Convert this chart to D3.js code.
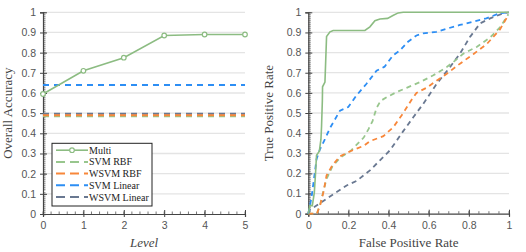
<!DOCTYPE html>
<html>
<head>
<meta charset="utf-8">
<script src="https://cdnjs.cloudflare.com/ajax/libs/d3/7.8.5/d3.min.js"></script>
<style>
body { margin:0; background:#fff; }
.tick text { font-family: "Liberation Sans", Arial, sans-serif; font-size:10.5px; fill:#555; }
.axis-label { font-family: "Liberation Serif", "DejaVu Serif", serif; font-size:13px; fill:#444; }
.legend text { font-family: "Liberation Serif", "DejaVu Serif", serif; font-size:10px; fill:#222; }
</style>
</head>
<body>
<div id="chart"></div>
<script>

// ---- data ----
var levels = [0, 1, 2, 3, 4, 5];
var multiAccuracy = [0.595, 0.71, 0.775, 0.885, 0.89, 0.89];
var svmRbfAccuracy = 0.485;
var wsvmRbfAccuracy = 0.49;
var svmLinearAccuracy = 0.64;
var wsvmLinearAccuracy = 0.497;

var seriesNames = ["Multi", "SVM RBF", "WSVM RBF", "SVM Linear", "WSVM Linear"];
var seriesColors = ["#8cbc82", "#98c68d", "#f8873a", "#2d8ef4", "#697891"];

// ROC curves: [fpr, tpr]
var rocMulti = [[0,0],[0.008,0.04],[0.02,0.04],[0.03,0.105],[0.036,0.2],[0.041,0.29],[0.055,0.31],
  [0.063,0.37],[0.066,0.433],[0.07,0.56],[0.071,0.63],[0.083,0.654],[0.091,0.88],[0.108,0.903],
  [0.124,0.91],[0.282,0.91],[0.307,0.928],[0.332,0.958],[0.357,0.967],[0.395,0.97],[0.424,0.985],
  [0.448,0.997],[0.473,1],[1,1]];
var rocSvmRbf = [[0,0],[0.043,0],[0.06,0.05],[0.09,0.17],[0.12,0.235],[0.16,0.28],[0.209,0.31],
  [0.276,0.378],[0.3,0.42],[0.32,0.46],[0.34,0.525],[0.36,0.56],[0.39,0.578],[0.44,0.604],
  [0.49,0.625],[0.556,0.653],[0.623,0.687],[0.69,0.728],[0.723,0.753],[0.773,0.795],
  [0.839,0.828],[0.906,0.875],[0.955,0.925],[0.997,0.99]];
var rocWsvmRbf = [[0,0],[0.043,0],[0.06,0.046],[0.076,0.11],[0.091,0.19],[0.12,0.24],[0.158,0.285],
  [0.209,0.31],[0.276,0.337],[0.307,0.36],[0.374,0.385],[0.424,0.43],[0.473,0.5],[0.514,0.565],
  [0.539,0.6],[0.589,0.625],[0.638,0.66],[0.69,0.695],[0.756,0.745],[0.822,0.792],
  [0.889,0.842],[0.955,0.915],[0.99,0.975]];
var rocSvmLinear = [[0,0],[0.008,0.038],[0.017,0.088],[0.028,0.17],[0.041,0.27],[0.058,0.32],
  [0.083,0.37],[0.108,0.425],[0.158,0.512],[0.199,0.53],[0.24,0.587],[0.29,0.645],[0.34,0.71],
  [0.38,0.73],[0.423,0.787],[0.456,0.81],[0.497,0.854],[0.539,0.885],[0.572,0.895],[0.638,0.903],
  [0.688,0.918],[0.755,0.937],[0.82,0.953],[0.887,0.97],[0.953,0.995],[1,1]];
var rocWsvmLinear = [[0,0],[0.008,0.02],[0.025,0.03],[0.075,0.063],[0.125,0.097],[0.191,0.14],
  [0.241,0.163],[0.307,0.215],[0.357,0.265],[0.407,0.315],[0.473,0.41],[0.523,0.479],[0.573,0.546],
  [0.64,0.645],[0.706,0.728],[0.756,0.795],[0.806,0.878],[0.856,0.945],[0.906,0.97],[0.972,0.995],[1,1]];

var yTicks = [0,0.1,0.2,0.3,0.4,0.5,0.6,0.7,0.8,0.9,1];
var levelTicks = [0,1,2,3,4,5];
var fprTicks = [0,0.2,0.4,0.6,0.8,1];

// ---- layout ----
var svg = d3.select("#chart").append("svg")
  .attr("width", 526).attr("height", 252);

var dash = "6,5";

function fmt(d){ return d===0||d===1 ? String(d) : String(+d.toFixed(1)); }

function drawFrame(g, x, y, majorX, minorStepX, w, h){
  // grid
  g.append("g").selectAll("line").data(yTicks.slice(1)).enter().append("line")
    .attr("x1", 0).attr("x2", w)
    .attr("y1", function(d){ return y(d); }).attr("y2", function(d){ return y(d); })
    .attr("stroke", "#e4e4e4").attr("stroke-width", 1.3);

  // minor ticks on y (inside)
  var minorY = d3.range(0, 1.0001, 0.01);
  g.append("g").selectAll("line").data(minorY).enter().append("line")
    .attr("x1", 0).attr("x2", 2.5)
    .attr("y1", function(d){ return Math.round(y(d))+0.5; }).attr("y2", function(d){ return Math.round(y(d))+0.5; })
    .attr("stroke", "#555").attr("stroke-width", 0.8);

  // minor ticks on x (inside)
  var xd = x.domain();
  var minorX = d3.range(xd[0], xd[1]+1e-6, minorStepX);
  g.append("g").selectAll("line").data(minorX).enter().append("line")
    .attr("y1", h).attr("y2", h-2.5)
    .attr("x1", function(d){ return x(d); }).attr("x2", function(d){ return x(d); })
    .attr("stroke", "#555").attr("stroke-width", 0.8);

  // y axis
  var ya = g.append("g").call(d3.axisLeft(y).tickValues(yTicks).tickFormat(fmt).tickSize(3).tickPadding(4));
  ya.select(".domain").attr("stroke", "#444").attr("stroke-width", 1.2);
  ya.selectAll(".tick line").attr("x2", 4).attr("x1", -3).attr("stroke", "#444");

  // x axis
  var xa = g.append("g").attr("transform", "translate(0," + h + ")")
    .call(d3.axisBottom(x).tickValues(majorX).tickFormat(fmt).tickSize(3).tickPadding(5));
  xa.select(".domain").attr("stroke", "#444").attr("stroke-width", 1.2);
  xa.selectAll(".tick line").attr("y1", -4).attr("y2", 3).attr("stroke", "#444");
}

// ---- left chart ----
var L = {left:43, top:12.3, width:202, height:201.7};
var gl = svg.append("g").attr("transform", "translate(" + L.left + "," + L.top + ")");
var xl = d3.scaleLinear().domain([0,5]).range([0, L.width]);
var yl = d3.scaleLinear().domain([0,1]).range([L.height, 0]);

drawFrame(gl, xl, yl, levelTicks, 0.2, L.width, L.height);

var flatLines = [
  {v: wsvmLinearAccuracy, c: seriesColors[4]},
  {v: svmRbfAccuracy, c: seriesColors[1]},
  {v: wsvmRbfAccuracy, c: seriesColors[2]},
  {v: svmLinearAccuracy, c: seriesColors[3]}
];
gl.append("g").selectAll("line").data(flatLines).enter().append("line")
  .attr("x1", 0).attr("x2", L.width)
  .attr("y1", function(d){ return yl(d.v); }).attr("y2", function(d){ return yl(d.v); })
  .attr("stroke", function(d){ return d.c; })
  .attr("stroke-width", 2).attr("stroke-dasharray", dash);

var multiPts = levels.map(function(l, i){ return [l, multiAccuracy[i]]; });
gl.append("path").datum(multiPts)
  .attr("fill", "none").attr("stroke", seriesColors[0]).attr("stroke-width", 1.6)
  .attr("d", d3.line().x(function(d){ return xl(d[0]); }).y(function(d){ return yl(d[1]); }));
gl.append("g").selectAll("circle").data(multiPts).enter().append("circle")
  .attr("cx", function(d){ return xl(d[0]); }).attr("cy", function(d){ return yl(d[1]); })
  .attr("r", 2.3).attr("fill", "#fff").attr("stroke", seriesColors[0]).attr("stroke-width", 1.2);

gl.append("text").attr("class", "axis-label")
  .attr("transform", "translate(-31," + (L.height/2) + ") rotate(-90)")
  .attr("text-anchor", "middle").text("Overall Accuracy");
gl.append("text").attr("class", "axis-label")
  .attr("x", L.width/2).attr("y", L.height + 33)
  .attr("text-anchor", "middle").style("font-style", "italic").text("Level");

// legend
var leg = gl.append("g").attr("class", "legend").attr("transform", "translate(9,131)");
leg.append("rect").attr("width", 100).attr("height", 62.7)
  .attr("fill", "#fff").attr("stroke", "#222").attr("stroke-width", 1);
var items = leg.selectAll("g.item").data(seriesNames).enter().append("g")
  .attr("transform", function(d, i){ return "translate(0," + (6.9 + i*11.7) + ")"; });
items.append("line")
  .attr("x1", 4).attr("x2", 36).attr("y1", 0).attr("y2", 0)
  .attr("stroke", function(d, i){ return seriesColors[i]; })
  .attr("stroke-width", function(d, i){ return i===0 ? 1.6 : 2; })
  .attr("stroke-dasharray", function(d, i){ return i===0 ? null : "9,5"; });
items.filter(function(d, i){ return i===0; }).append("circle")
  .attr("cx", 20).attr("cy", 0).attr("r", 2.3)
  .attr("fill", "#fff").attr("stroke", seriesColors[0]).attr("stroke-width", 1.2);
items.append("text").attr("x", 37).attr("y", 3.5).text(function(d){ return d; });

// ---- right chart ----
var R = {left:308.3, top:12.3, width:200.7, height:201.4};
var gr = svg.append("g").attr("transform", "translate(" + R.left + "," + R.top + ")");
var xr = d3.scaleLinear().domain([0,1]).range([0, R.width]);
var yr = d3.scaleLinear().domain([0,1]).range([R.height, 0]);

drawFrame(gr, xr, yr, fprTicks, 0.05, R.width, R.height);

var rocLine = d3.line().x(function(d){ return xr(d[0]); }).y(function(d){ return yr(d[1]); });
var rocs = [
  {pts: rocWsvmLinear, c: seriesColors[4], dashed: true},
  {pts: rocSvmRbf, c: seriesColors[1], dashed: true},
  {pts: rocWsvmRbf, c: seriesColors[2], dashed: true},
  {pts: rocSvmLinear, c: seriesColors[3], dashed: true},
  {pts: rocMulti, c: seriesColors[0], dashed: false}
];
gr.append("g").selectAll("path").data(rocs).enter().append("path")
  .attr("fill", "none")
  .attr("stroke", function(d){ return d.c; })
  .attr("stroke-width", function(d){ return d.dashed ? 1.8 : 1.6; })
  .attr("stroke-dasharray", function(d){ return d.dashed ? "5,4" : null; })
  .attr("d", function(d){ return rocLine(d.pts); });

gr.append("text").attr("class", "axis-label")
  .attr("transform", "translate(-35," + (R.height/2) + ") rotate(-90)")
  .attr("text-anchor", "middle").text("True Positive Rate");
gr.append("text").attr("class", "axis-label")
  .attr("x", R.width/2).attr("y", R.height + 33)
  .attr("text-anchor", "middle").text("False Positive Rate");

</script>
</body>
</html>
